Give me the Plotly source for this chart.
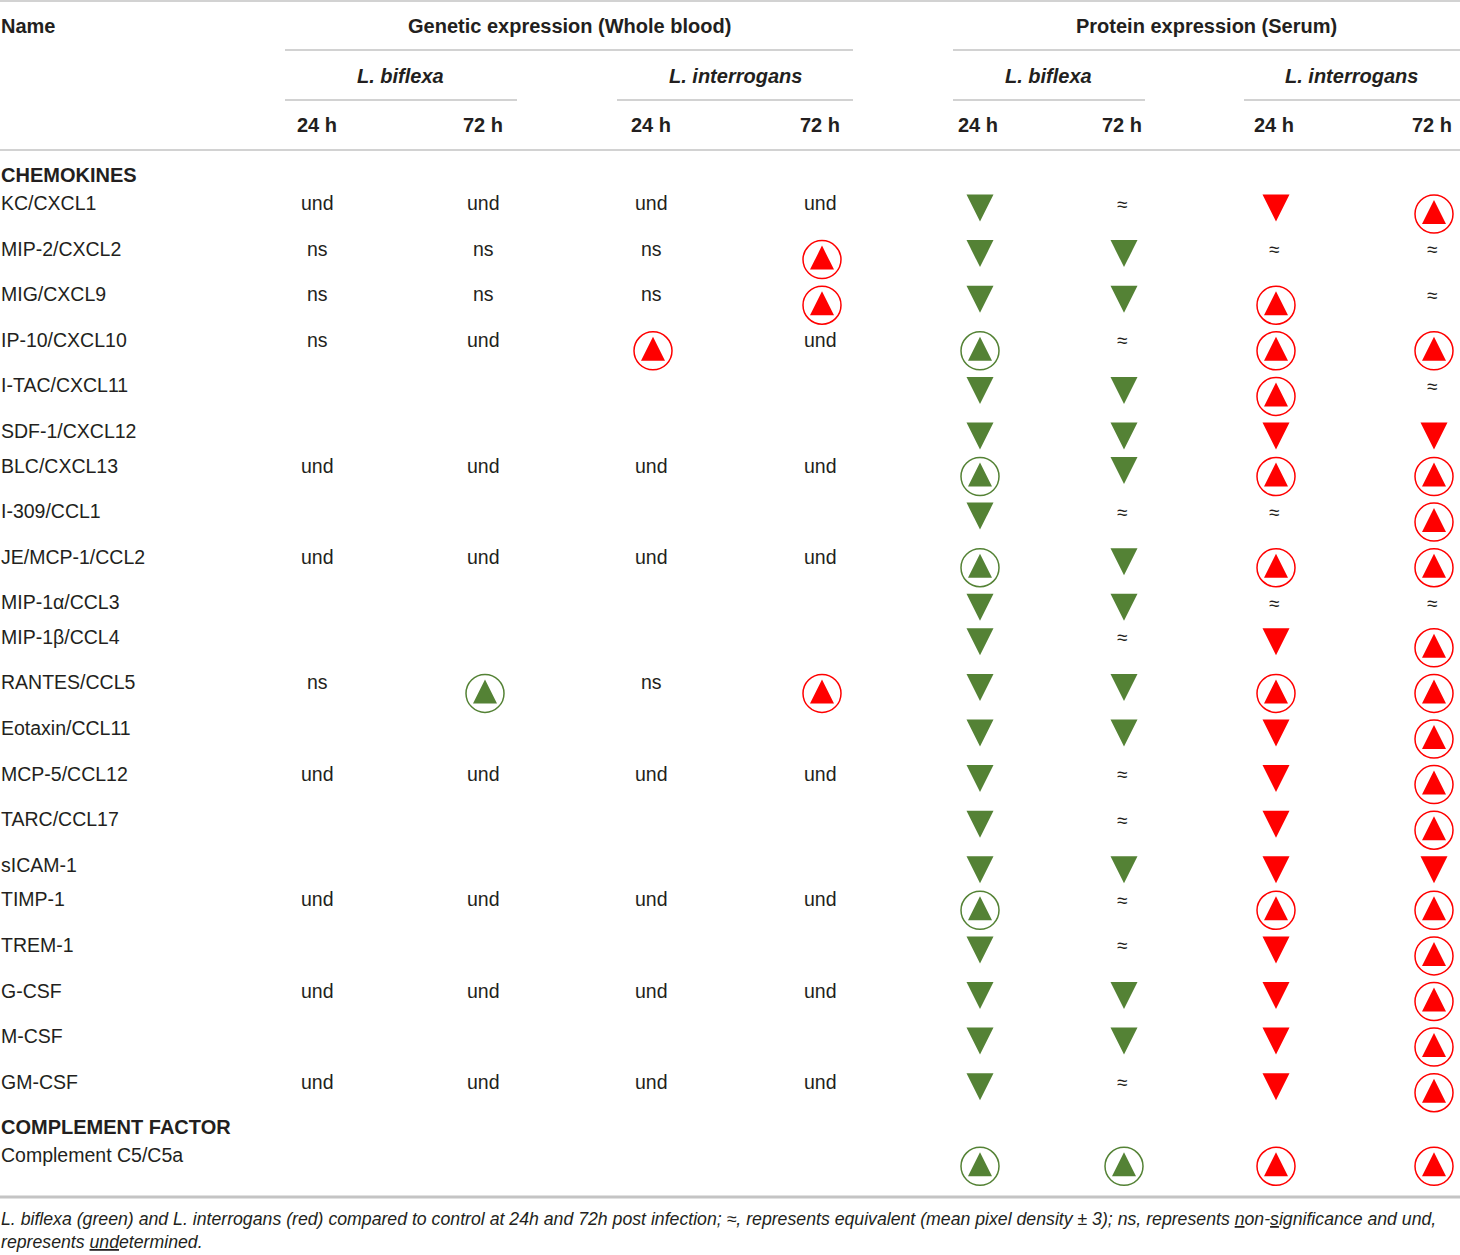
import plotly.graph_objects as go

# ---------------- data ----------------
section_titles = ["CHEMOKINES", "COMPLEMENT FACTOR"]
chemokine_names = [
    "KC/CXCL1", "MIP-2/CXCL2", "MIG/CXCL9", "IP-10/CXCL10", "I-TAC/CXCL11",
    "SDF-1/CXCL12", "BLC/CXCL13", "I-309/CCL1", "JE/MCP-1/CCL2", "MIP-1α/CCL3",
    "MIP-1β/CCL4", "RANTES/CCL5", "Eotaxin/CCL11", "MCP-5/CCL12", "TARC/CCL17",
    "sICAM-1", "TIMP-1", "TREM-1", "G-CSF", "M-CSF", "GM-CSF",
]
complement_names = ["Complement C5/C5a"]

# Genetic expression (whole blood): "und", "ns", "up" (significant increase) or "" (blank)
gene_lb_24 = ["und", "ns", "ns", "ns", "", "", "und", "", "und", "", "", "ns", "", "und", "", "", "und", "", "und", "", "und", ""]
gene_lb_72 = ["und", "ns", "ns", "und", "", "", "und", "", "und", "", "", "up", "", "und", "", "", "und", "", "und", "", "und", ""]
gene_li_24 = ["und", "ns", "ns", "up", "", "", "und", "", "und", "", "", "ns", "", "und", "", "", "und", "", "und", "", "und", ""]
gene_li_72 = ["und", "up", "up", "und", "", "", "und", "", "und", "", "", "up", "", "und", "", "", "und", "", "und", "", "und", ""]

# Protein expression (serum): "down", "eq" (equivalent) or "up"
prot_lb_24 = ["down", "down", "down", "up", "down", "down", "up", "down", "up", "down", "down", "down", "down", "down", "down", "down", "up", "down", "down", "down", "down", "up"]
prot_lb_72 = ["eq", "down", "down", "eq", "down", "down", "down", "eq", "down", "down", "eq", "down", "down", "eq", "eq", "down", "eq", "eq", "down", "down", "eq", "up"]
prot_li_24 = ["down", "eq", "up", "up", "up", "down", "up", "eq", "up", "eq", "down", "up", "down", "down", "down", "down", "up", "down", "down", "down", "down", "up"]
prot_li_72 = ["up", "eq", "eq", "up", "eq", "down", "up", "up", "up", "eq", "up", "up", "up", "up", "up", "down", "up", "up", "up", "up", "up", "up"]

group_titles = ["Genetic expression (Whole blood)", "Protein expression (Serum)"]
species_titles = ["L. biflexa", "L. interrogans", "L. biflexa", "L. interrogans"]
time_labels = ["24 h", "72 h", "24 h", "72 h", "24 h", "72 h", "24 h", "72 h"]
footnote = ("<i>L. biflexa (green) and L. interrogans (red) compared to control at 24h and 72h post infection; "
            "≈, represents equivalent (mean pixel density ± 3); ns, represents <u>n</u>on-<u>s</u>ignificance and und,"
            "<br>represents <u>und</u>etermined.</i>")

# ---------------- layout constants ----------------
W, H = 1460, 1255
FONT = "Liberation Sans, Arial, Helvetica, sans-serif"
TXT = "#231f20"
GREEN = "#548235"
RED = "#ff0000"
LINE = "#a6a6a6"
BODY = 19.5

col_x = [317, 483, 651, 820, 978, 1122, 1274, 1432]
col_species = ["lb", "lb", "li", "li", "lb", "lb", "li", "li"]
species_color = {"lb": GREEN, "li": RED}
group_center = [569, 1206]
group_span = [(285, 853), (953, 1460)]
species_center = [400, 735, 1048, 1351]
species_span = [(285, 517), (617, 853), (953, 1145), (1244, 1460)]

gene_cols = [gene_lb_24, gene_lb_72, gene_li_24, gene_li_72]
prot_cols = [prot_lb_24, prot_lb_72, prot_li_24, prot_li_72]
all_names = chemokine_names + complement_names
sections = [(section_titles[0], 0, len(chemokine_names)),
            (section_titles[1], len(chemokine_names), len(all_names))]

annotations = []
shapes = []


def ann(x, y, text, size=BODY, bold=False, anchor="center", color=TXT, italic=False):
    t = text
    if bold:
        t = "<b>" + t + "</b>"
    if italic:
        t = "<i>" + t + "</i>"
    annotations.append(dict(x=x, y=y, xref="x", yref="y", text=t, showarrow=False,
                            xanchor=anchor, yanchor="middle", align="left", borderpad=0,
                            font=dict(family=FONT, size=size, color=color)))


def hline(x0, x1, y, width=1.2, color=LINE):
    shapes.append(dict(type="line", xref="x", yref="y", x0=x0, x1=x1, y0=y, y1=y,
                       line=dict(color=color, width=width)))


# header
hline(0, W, 1)
ann(0, 26, "Name", size=20, bold=True, anchor="left")
for t, c, (a, b) in zip(group_titles, group_center, group_span):
    ann(c, 26, t, size=20, bold=True)
    hline(a, b, 50)
for t, c, (a, b) in zip(species_titles, species_center, species_span):
    ann(c, 76, t, size=20, bold=True, italic=True)
    hline(a, b, 100)
for t, x in zip(time_labels, col_x):
    ann(x, 125, t, size=20, bold=True)
hline(0, W, 150)

# markers collected by kind
marks = {}


def add_mark(kind, color, x, y):
    marks.setdefault((kind, color), ([], []))
    marks[(kind, color)][0].append(x)
    marks[(kind, color)][1].append(y)


TRI = 27      # down triangle size
INNER = 24    # up triangle inside circle
CIRC = 38     # circle diameter
ROW_TALL = 45.6
ROW_SHORT = 34.5
SECTION_GAP = 28

y = 175
for title, i0, i1 in sections:
    ann(0, y, title, size=20, bold=True, anchor="left")
    y += SECTION_GAP
    for i in range(i0, i1):
        ann(0, y, all_names[i], anchor="left")
        row_vals = [c[i] for c in gene_cols] + [c[i] for c in prot_cols]
        circled = False
        for j, v in enumerate(row_vals):
            x = col_x[j]
            color = species_color[col_species[j]]
            if v in ("und", "ns"):
                ann(x, y, v)
            elif v == "eq":
                ann(x, y + 1, "≈", size=19)
            elif v == "down":
                add_mark("arrow-down", color, x + 2, y + 5 + TRI / 2)
            elif v == "up":
                circled = True
                cy = y + 11
                add_mark("circle-open", color, x + 2, cy)
                add_mark("arrow-up", color, x + 2, cy - 2 - INNER / 2)
        y += ROW_TALL if circled else ROW_SHORT

hline(0, W, 1197, width=3, color="#c4c4c4")
annotations.append(dict(x=0, y=1230.5, xref="x", yref="y", text=footnote, showarrow=False,
                        xanchor="left", yanchor="middle", align="left", borderpad=0,
                        font=dict(family=FONT, size=17.7, color=TXT)))

fig = go.Figure()
for (kind, color), (xs, ys) in marks.items():
    if kind == "circle-open":
        marker = dict(symbol=kind, size=CIRC, color=color, line=dict(width=1.5, color=color))
    elif kind == "arrow-down":
        marker = dict(symbol=kind, size=TRI, color=color, line=dict(width=0))
    else:
        marker = dict(symbol=kind, size=INNER, color=color, line=dict(width=0))
    fig.add_trace(go.Scatter(x=xs, y=ys, mode="markers", marker=marker,
                             hoverinfo="skip", showlegend=False, cliponaxis=False))

fig.update_layout(
    width=W, height=H, margin=dict(l=0, r=0, t=0, b=0),
    paper_bgcolor="white", plot_bgcolor="white",
    xaxis=dict(range=[0, W], visible=False, fixedrange=True),
    yaxis=dict(range=[H, 0], visible=False, fixedrange=True),
    annotations=annotations, shapes=shapes, showlegend=False,
)

fig.write_html("out.html", post_script="document.body.style.margin='0';",
               config={"displayModeBar": False})
